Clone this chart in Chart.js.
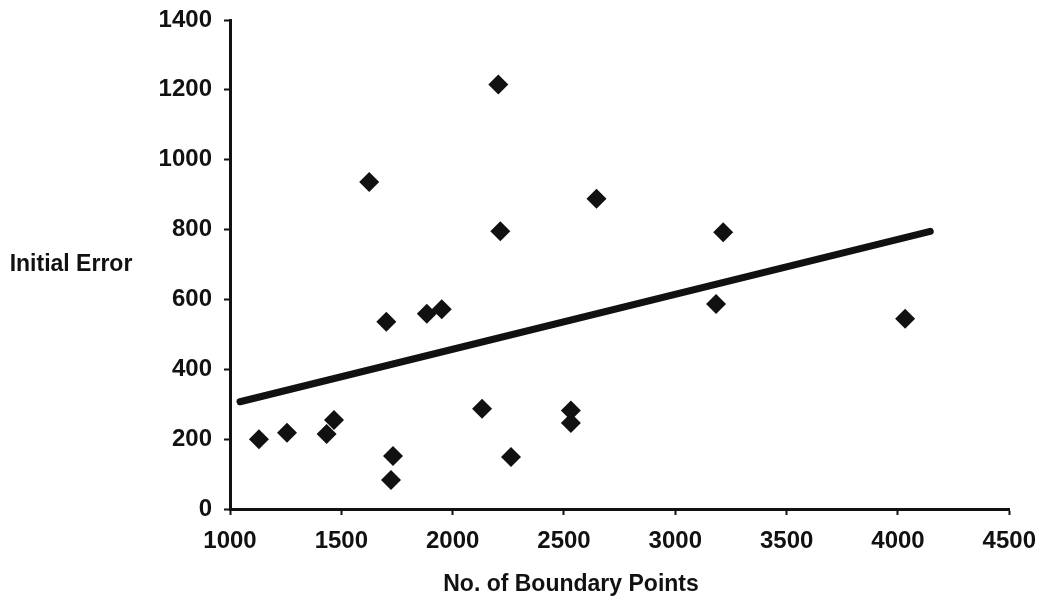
<!DOCTYPE html>
<html>
<head>
<meta charset="utf-8">
<script src="https://cdn.jsdelivr.net/npm/chart.js@4/dist/chart.umd.min.js"></script>
<style>
  html, body { margin: 0; padding: 0; background: #fff; }
  #wrap { width: 1048px; height: 607px; position: relative; }
</style>
</head>
<body>
<div id="wrap"><canvas id="errChart"></canvas></div>
<script>
// boundary point counts and the initial error measured for each shape
const boundaryPoints = [1130, 1256, 1434, 1467, 1625, 1702, 1723, 1732, 1884, 1951,
                        2132, 2205, 2214, 2262, 2531, 2531, 2646, 3183, 3215, 4032];
const initialError   = [200, 218, 215, 255, 936, 536, 83, 152, 559, 572,
                        287, 1215, 795, 149, 282, 246, 888, 587, 792, 545];

// linear fit, drawn between its two end points
const fitX = [1045, 4145];
const fitY = [307, 795];

const xTitle = 'No. of Boundary Points';
const yTitle = 'Initial Error';

const ink = '#111';
const tickFont = { family: '"Liberation Sans", Arial, sans-serif', size: 24, weight: 'bold' };

const points = boundaryPoints.map((x, i) => ({ x: x, y: initialError[i] }));
const fitLine = fitX.map((x, i) => ({ x: x, y: fitY[i] }));

// plain numbers, no thousands separator
const plain = v => String(v);

// horizontal axis titles, the y one is not rotated
const axisTitles = {
  id: 'axisTitles',
  afterDraw(chart) {
    const { ctx, chartArea } = chart;
    ctx.save();
    ctx.fillStyle = ink;
    ctx.font = 'bold 23px "Liberation Sans", Arial, sans-serif';
    ctx.textAlign = 'center';
    ctx.textBaseline = 'middle';
    ctx.fillText(yTitle, 71, (chartArea.top + chartArea.bottom) / 2);
    ctx.fillText(xTitle, 571, chartArea.bottom + 76);
    ctx.restore();
  }
};

new Chart(document.getElementById('errChart'), {
  type: 'scatter',
  data: {
    datasets: [
      {
        label: 'Initial Error',
        data: points,
        pointStyle: 'rectRot',
        pointRadius: 10,
        backgroundColor: ink,
        borderColor: ink,
        borderWidth: 0
      },
      {
        type: 'line',
        label: 'Fit',
        data: fitLine,
        borderColor: ink,
        borderWidth: 7,
        borderCapStyle: 'round',
        pointRadius: 0,
        fill: false
      }
    ]
  },
  options: {
    responsive: true,
    maintainAspectRatio: false,
    animation: false,
    layout: { padding: { top: 20, right: 33, left: 0, bottom: 0 } },
    plugins: {
      legend: { display: false },
      tooltip: { enabled: false }
    },
    scales: {
      x: {
        type: 'linear',
        min: 1000,
        max: 4500,
        ticks: { stepSize: 500, color: ink, font: tickFont, padding: 12, maxRotation: 0, callback: plain },
        grid: { drawOnChartArea: false, tickLength: 6, tickWidth: 2, color: ink },
        border: { color: ink, width: 3 },
        afterFit(scale) { scale.height = 98; }
      },
      y: {
        min: 0,
        max: 1400,
        ticks: { stepSize: 200, color: ink, font: tickFont, padding: 12, callback: plain },
        grid: { drawOnChartArea: false, tickLength: 6, tickWidth: 2, color: ink },
        border: { color: ink, width: 3 },
        afterFit(scale) {
          scale.width = 230;
          scale.paddingTop = 0;
          scale.paddingBottom = 0;
        }
      }
    }
  },
  plugins: [axisTitles]
});
</script>
</body>
</html>
